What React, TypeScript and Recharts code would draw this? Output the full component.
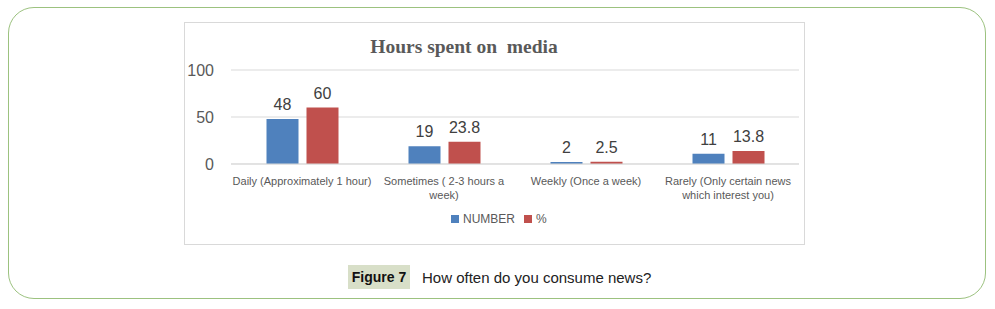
import { BarChart, Bar, XAxis, YAxis, CartesianGrid, LabelList } from "recharts";

const categories = [
  "Daily (Approximately 1 hour)",
  "Sometimes ( 2-3 hours a\nweek)",
  "Weekly (Once a week)",
  "Rarely (Only certain news\nwhich interest you)",
];
const numberValues = [48, 19, 2, 11];
const percentValues = [60, 23.8, 2.5, 13.8];
const yTicks = [0, 50, 100];

const BLUE = "#4f81bd";
const RED = "#c0504d";
const FONT = "'Liberation Sans', Arial, sans-serif";

const data = categories.map((name, i) => ({
  name,
  number: numberValues[i],
  percent: percentValues[i],
}));

const CategoryTick = (props: any) => {
  const { x, y, payload } = props;
  const lines = String(payload.value).split("\n");
  return (
    <text x={x} y={y} textAnchor="middle" fill="#595959" fontSize={11} fontFamily={FONT}>
      {lines.map((line, i) => (
        <tspan key={i} x={x} dy={i === 0 ? 13 : 14}>
          {line}
        </tspan>
      ))}
    </text>
  );
};

const App = () => {
  return (
    <div
      style={{
        position: "absolute",
        left: 0,
        top: 0,
        width: 995,
        height: 309,
        background: "#fff",
        fontFamily: FONT,
      }}
    >
      <div
        style={{
          position: "absolute",
          left: 8,
          top: 7,
          width: 978,
          height: 292,
          border: "1.5px solid #9cc27f",
          borderRadius: 26,
          boxSizing: "border-box",
        }}
      />
      <div
        style={{
          position: "absolute",
          left: 184,
          top: 22,
          width: 621,
          height: 223,
          border: "1px solid #d9d9d9",
          boxSizing: "border-box",
        }}
      >
        <div
          style={{
            position: "absolute",
            left: 0,
            width: 558,
            top: 13,
            textAlign: "center",
            fontFamily: "'Liberation Serif', 'Times New Roman', serif",
            fontWeight: "bold",
            fontSize: 19.5,
            color: "#595959",
            whiteSpace: "pre",
          }}
        >
          {"Hours spent on  media"}
        </div>
        <BarChart
          width={619}
          height={221}
          data={data}
          margin={{ top: 47, right: 5, left: 0, bottom: 40 }}
          barCategoryGap="25%"
          barGap={8}
        >
          <CartesianGrid vertical={false} stroke="#d9d9d9" />
          <XAxis
            dataKey="name"
            height={40}
            axisLine={{ stroke: "#d9d9d9" }}
            tickLine={false}
            interval={0}
            tick={<CategoryTick />}
          />
          <YAxis
            width={46}
            domain={[0, 100]}
            ticks={yTicks}
            axisLine={false}
            tickLine={false}
            tickMargin={11}
            tick={{ fill: "#595959", fontSize: 16, fontFamily: FONT }}
          />
          <Bar dataKey="number" fill={BLUE} isAnimationActive={false}>
            <LabelList dataKey="number" position="top" offset={9} fill="#404040" fontSize={16} fontFamily={FONT} />
          </Bar>
          <Bar dataKey="percent" fill={RED} isAnimationActive={false}>
            <LabelList dataKey="percent" position="top" offset={9} fill="#404040" fontSize={16} fontFamily={FONT} />
          </Bar>
        </BarChart>
        <div
          style={{
            position: "absolute",
            left: 266,
            top: 189,
            display: "flex",
            alignItems: "center",
            fontSize: 12,
            color: "#595959",
          }}
        >
          <span style={{ width: 8, height: 8, background: BLUE, display: "inline-block", marginRight: 4 }} />
          <span style={{ marginRight: 9 }}>NUMBER</span>
          <span style={{ width: 8, height: 8, background: RED, display: "inline-block", marginRight: 4 }} />
          <span>%</span>
        </div>
      </div>
      <div
        style={{
          position: "absolute",
          left: 348,
          top: 265,
          width: 62,
          height: 24,
          background: "#d8dfc8",
          display: "flex",
          alignItems: "center",
          justifyContent: "center",
          fontWeight: "bold",
          fontSize: 14,
          color: "#111",
        }}
      >
        Figure 7
      </div>
      <div
        style={{
          position: "absolute",
          left: 422,
          top: 265,
          height: 24,
          display: "flex",
          alignItems: "center",
          fontSize: 15,
          color: "#222",
        }}
      >
        How often do you consume news?
      </div>
    </div>
  );
};

export default App;
